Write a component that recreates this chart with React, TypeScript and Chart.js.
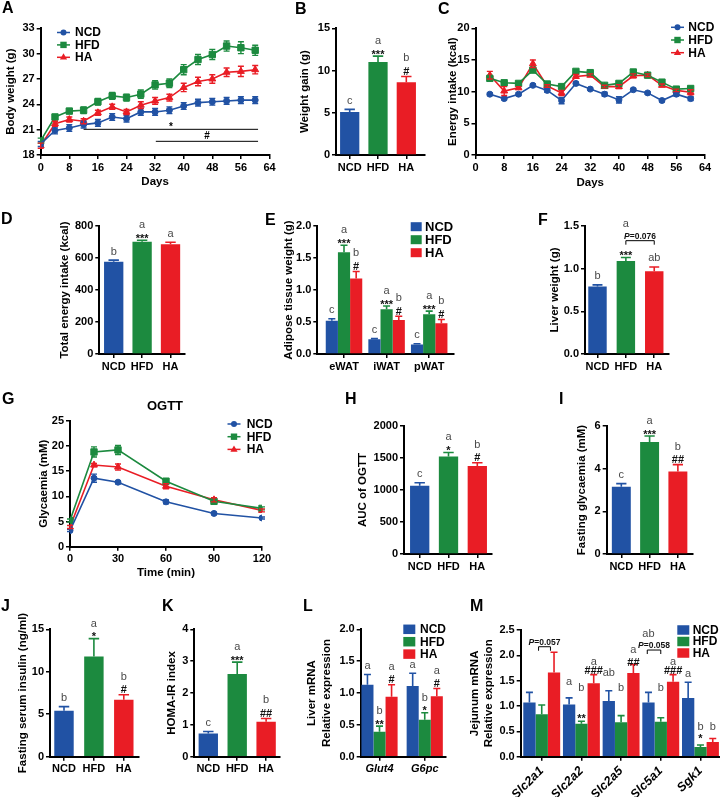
import React, { useEffect, useRef } from 'react';
import { Chart, registerables } from 'chart.js';

Chart.register(...registerables);

const FAM = '"Liberation Sans", Arial, Helvetica, sans-serif';
const COL_NCD = '#2152A4';
const COL_HFD = '#1C8A3F';
const COL_HA = '#E91D25';
const GROUP_COLORS = [COL_NCD, COL_HFD, COL_HA];

// ---------------- data ----------------
const GROUPS = ['NCD', 'HFD', 'HA'];

// A body weight
const A_DAYS = [0, 4, 8, 12, 16, 20, 24, 28, 32, 36, 40, 44, 48, 52, 56, 60];
const A_XTICKS = [0, 8, 16, 24, 32, 40, 48, 56, 64];
const A_NCD = [19.3, 20.9, 21.2, 21.6, 21.8, 22.5, 22.3, 23.1, 23.1, 23.3, 23.8, 24.2, 24.3, 24.4, 24.5, 24.5];
const A_NCD_SEM = [0.3, 0.4, 0.4, 0.4, 0.4, 0.4, 0.4, 0.4, 0.4, 0.4, 0.4, 0.4, 0.4, 0.4, 0.4, 0.4];
const A_HFD = [19.7, 22.5, 23.2, 23.3, 24.3, 25.0, 24.8, 25.2, 26.3, 26.5, 28.1, 29.3, 29.9, 30.9, 30.7, 30.4];
const A_HFD_SEM = [0.3, 0.3, 0.3, 0.4, 0.4, 0.4, 0.4, 0.5, 0.5, 0.5, 0.6, 0.6, 0.6, 0.6, 0.7, 0.6];
const A_HA = [19.1, 21.7, 22.2, 22.0, 23.0, 23.7, 23.1, 23.9, 24.4, 24.8, 26.0, 26.7, 27.0, 27.8, 27.9, 28.1];
const A_HA_SEM = [0.3, 0.3, 0.3, 0.3, 0.3, 0.3, 0.3, 0.4, 0.4, 0.4, 0.5, 0.5, 0.5, 0.5, 0.6, 0.5];

// B weight gain
const B_GAIN = [5.1, 11.0, 8.6];
const B_SEM = [0.3, 0.7, 0.7];
const B_LETTERS = ['c', 'a', 'b'];
const B_STARS = ['', '***', '#'];

// C energy intake
const C_DAYS = [4, 8, 12, 16, 20, 24, 28, 32, 36, 40, 44, 48, 52, 56, 60];
const C_XTICKS = [0, 8, 16, 24, 32, 40, 48, 56, 64];
const C_NCD = [9.6, 8.9, 9.6, 11.0, 10.2, 8.6, 11.3, 10.4, 9.6, 8.7, 10.3, 9.8, 8.6, 9.6, 8.9];
const C_NCD_SEM = [0.2, 0.2, 0.2, 0.2, 0.3, 0.5, 0.2, 0.2, 0.3, 0.5, 0.2, 0.2, 0.2, 0.3, 0.3];
const C_HFD = [12.1, 11.4, 11.3, 13.4, 11.2, 10.8, 13.2, 13.0, 11.0, 11.3, 13.1, 12.6, 11.5, 10.4, 10.5];
const C_HFD_SEM = [0.3, 0.2, 0.2, 0.3, 0.2, 0.2, 0.2, 0.2, 0.2, 0.2, 0.2, 0.2, 0.2, 0.2, 0.2];
const C_HA = [12.6, 10.1, 10.6, 14.4, 10.9, 9.8, 12.4, 12.6, 10.8, 10.8, 12.5, 12.6, 11.0, 10.2, 9.9];
const C_HA_SEM = [0.6, 0.7, 0.2, 0.6, 0.2, 0.4, 0.3, 0.2, 0.2, 0.3, 0.3, 0.2, 0.2, 0.2, 0.4];

// D total energy intake
const D_TOTAL = [577, 701, 686];
const D_SEM = [10, 10, 12];
const D_LETTERS = ['b', 'a', 'a'];
const D_STARS = ['', '***', ''];

// E adipose tissue
const E_TISSUES = ['eWAT', 'iWAT', 'pWAT'];
const E_NCD = [0.52, 0.23, 0.15];
const E_NCD_SEM = [0.03, 0.01, 0.01];
const E_HFD = [1.59, 0.70, 0.62];
const E_HFD_SEM = [0.11, 0.05, 0.05];
const E_HA = [1.18, 0.53, 0.48];
const E_HA_SEM = [0.11, 0.06, 0.06];
const E_NCD_LET = ['c', 'c', 'c'];
const E_HFD_LET = ['a', 'a', 'a'];
const E_HFD_STAR = ['***', '***', '***'];
const E_HA_LET = ['b', 'b', 'b'];
const E_HA_STAR = ['#', '#', '#'];

// F liver weight
const F_LIVER = [0.79, 1.09, 0.97];
const F_SEM = [0.02, 0.04, 0.05];
const F_LETTERS = ['b', 'a', 'ab'];
const F_STARS = ['', '***', ''];

// G OGTT
const G_TIME = [0, 15, 30, 60, 90, 120];
const G_XTICKS = [0, 30, 60, 90, 120];
const G_NCD = [3.2, 13.6, 12.8, 8.9, 6.6, 5.7];
const G_NCD_SEM = [0.2, 0.8, 0.3, 0.4, 0.2, 0.2];
const G_HFD = [5.2, 18.8, 19.2, 13.0, 9.0, 7.6];
const G_HFD_SEM = [0.3, 1.0, 0.9, 0.5, 0.4, 0.3];
const G_HA = [3.9, 16.2, 15.8, 12.0, 9.3, 7.2];
const G_HA_SEM = [0.3, 0.3, 0.6, 0.5, 0.4, 0.3];

// H AUC
const H_AUC = [1068, 1522, 1375];
const H_SEM = [45, 65, 50];
const H_LETTERS = ['c', 'a', 'b'];
const H_STARS = ['', '*', '#'];

// I fasting glycaemia
const I_GLY = [3.15, 5.25, 3.87];
const I_SEM = [0.15, 0.28, 0.32];
const I_LETTERS = ['c', 'a', 'b'];
const I_STARS = ['', '***', '##'];

// J fasting insulin
const J_INS = [5.4, 11.8, 6.7];
const J_SEM = [0.5, 2.1, 0.6];
const J_LETTERS = ['b', 'a', 'b'];
const J_STARS = ['', '*', '#'];

// K HOMA-IR
const K_HOMA = [0.73, 2.6, 1.1];
const K_SEM = [0.06, 0.37, 0.1];
const K_LETTERS = ['c', 'a', 'b'];
const K_STARS = ['', '***', '##'];

// L liver mRNA
const L_GENES = ['Glut4', 'G6pc'];
const L_NCD = [1.13, 1.11];
const L_NCD_SEM = [0.16, 0.20];
const L_HFD = [0.39, 0.58];
const L_HFD_SEM = [0.09, 0.11];
const L_HA = [0.94, 0.95];
const L_HA_SEM = [0.19, 0.12];
const L_NCD_LET = ['a', 'a'];
const L_HFD_LET = ['b', 'b'];
const L_HFD_STAR = ['**', '*'];
const L_HA_LET = ['a', 'a'];
const L_HA_STAR = ['#', '#'];

// M jejunum mRNA
const M_GENES = ['Slc2a1', 'Slc2a2', 'Slc2a5', 'Slc5a1', 'Sgk1'];
const M_NCD = [1.07, 1.03, 1.10, 1.07, 1.16];
const M_NCD_SEM = [0.20, 0.13, 0.20, 0.20, 0.31];
const M_HFD = [0.84, 0.65, 0.68, 0.69, 0.19];
const M_HFD_SEM = [0.18, 0.05, 0.13, 0.08, 0.04];
const M_HA = [1.66, 1.45, 1.65, 1.48, 0.29];
const M_HA_SEM = [0.40, 0.17, 0.17, 0.14, 0.07];
const M_NCD_LET = ['', 'a', 'ab', 'ab', 'a'];
const M_HFD_LET = ['', 'b', 'b', 'b', 'b'];
const M_HFD_STAR = ['', '**', '', '', '*'];
const M_HA_LET = ['', 'a', 'a', 'a', 'b'];
const M_HA_STAR = ['', '###', '##', '###', ''];

// ---------------- helpers ----------------
const STAR_FONT = `bold 11px ${FAM}`;
const LETTER_FONT = `11px ${FAM}`;
const LETTER_COLOR = '#4a4a4a';

type Box = { x: number; y: number; w: number; h: number };
type Area = { l: number; t: number; r: number; b: number };
type AxisText = { text: string | string[]; at: number; lh?: number };
type Spec = {
  key: string;
  box: Box;
  area: Area;
  type: 'line' | 'bar';
  datasets: any[];
  xMin: number; xMax: number; xTicks: number[]; xLabels?: string[]; xRot?: number; xItalic?: boolean;
  xFontSize?: number; xPad?: number;
  xTitle?: AxisText;
  yMin: number; yMax: number; yStep: number; yDec: number; yTitle: AxisText;
  legend?: { kind: 'line' | 'box'; x: number; tx: number; y: number; dy: number; w?: number; h?: number; size?: number };
  title?: { text: string; x: number; y: number };
  sigLines?: { x1: number; x2: number; y: number; label: string }[];
  brackets?: { x1: number; x2: number; y: number; label: string }[];
  marks?: Record<string, number>;
};

function lineDs(label: string, xs: number[], ys: number[], sem: number[], color: string, style: string) {
  return {
    label,
    data: xs.map((x, i) => ({ x, y: ys[i] })),
    errors: sem,
    borderColor: color,
    backgroundColor: color,
    borderWidth: 1.6,
    pointStyle: style,
    pointRadius: style === 'circle' ? 3 : style === 'rect' ? 4.5 : 4,
    pointBorderWidth: 1,
    tension: 0,
    fill: false,
  };
}

function singleBar(values: number[], sem: number[], letters: string[], stars: string[], pct: number) {
  return [{
    label: 'all',
    data: values.map((y, i) => ({ x: i, y })),
    backgroundColor: GROUP_COLORS,
    borderWidth: 0,
    errors: sem,
    letters,
    stars,
    categoryPercentage: pct,
    barPercentage: 1,
  }];
}

function groupBar(label: string, values: number[], sem: number[], color: string, letters: string[], stars: string[], pct: number) {
  return {
    label,
    data: values.map((y, i) => ({ x: i, y })),
    backgroundColor: color,
    borderWidth: 0,
    errors: sem,
    letters,
    stars,
    categoryPercentage: pct,
    barPercentage: 1,
  };
}

function idx(n: number) {
  return Array.from({ length: n }, (_, i) => i);
}

function drawBottom(ctx: CanvasRenderingContext2D, text: string, x: number, bottom: number, font: string, color: string) {
  ctx.font = font;
  ctx.fillStyle = color;
  ctx.textAlign = 'center';
  ctx.textBaseline = 'alphabetic';
  const m = ctx.measureText(text);
  const base = bottom - m.actualBoundingBoxDescent;
  ctx.fillText(text, x, base);
  return base - m.actualBoundingBoxAscent;
}

function drawCentered(ctx: CanvasRenderingContext2D, text: string, x: number, yc: number, font: string, color: string) {
  ctx.font = font;
  ctx.fillStyle = color;
  ctx.textAlign = 'center';
  ctx.textBaseline = 'alphabetic';
  const m = ctx.measureText(text);
  const h = m.actualBoundingBoxAscent + m.actualBoundingBoxDescent;
  const base = yc + h / 2 - m.actualBoundingBoxDescent;
  ctx.fillText(text, x, base);
  return base - m.actualBoundingBoxAscent;
}

function drawMarker(ctx: CanvasRenderingContext2D, style: string, x: number, y: number, color: string) {
  ctx.fillStyle = color;
  ctx.beginPath();
  if (style === 'circle') {
    ctx.arc(x, y, 3, 0, Math.PI * 2);
  } else if (style === 'rect') {
    ctx.rect(x - 3.2, y - 3.2, 6.4, 6.4);
  } else {
    ctx.moveTo(x, y - 4);
    ctx.lineTo(x - 3.6, y + 2.3);
    ctx.lineTo(x + 3.6, y + 2.3);
    ctx.closePath();
  }
  ctx.fill();
}

function drawP(ctx: CanvasRenderingContext2D, cx: number, base: number, val: string) {
  const f1 = `italic bold 8.5px ${FAM}`;
  const f2 = `bold 8.5px ${FAM}`;
  ctx.font = f1;
  const w1 = ctx.measureText('P').width;
  ctx.font = f2;
  const t2 = '=' + val;
  const w2 = ctx.measureText(t2).width;
  const x0 = cx - (w1 + w2) / 2;
  ctx.fillStyle = '#111';
  ctx.textAlign = 'left';
  ctx.textBaseline = 'alphabetic';
  ctx.font = f1;
  ctx.fillText('P', x0, base);
  ctx.font = f2;
  ctx.fillText(t2, x0 + w1, base);
}

function annot(s: Spec) {
  return {
    id: 'annot',
    afterDatasetsDraw(chart: any) {
      const ctx: CanvasRenderingContext2D = chart.ctx;
      const xs = chart.scales.x;
      const ys = chart.scales.y;
      const ox = s.box.x;
      const oy = s.box.y;
      const marks = s.marks || {};
      ctx.save();
      chart.data.datasets.forEach((ds: any, di: number) => {
        const meta = chart.getDatasetMeta(di);
        meta.data.forEach((el: any, i: number) => {
          const v = ds.data[i].y;
          const e = ds.errors ? ds.errors[i] : 0;
          const top = ys.getPixelForValue(v + e);
          if (s.type === 'bar') {
            const col = el.options.backgroundColor;
            const half = Math.max(3.5, el.width * 0.27);
            if (e > 0) {
              ctx.strokeStyle = col;
              ctx.lineWidth = 1.6;
              ctx.beginPath();
              ctx.moveTo(el.x, ys.getPixelForValue(v));
              ctx.lineTo(el.x, top);
              ctx.moveTo(el.x - half, top);
              ctx.lineTo(el.x + half, top);
              ctx.stroke();
            }
            const star = ds.stars ? ds.stars[i] : '';
            const letter = ds.letters ? ds.letters[i] : '';
            let cursor = top - 5.5;
            if (star) {
              const k = `${di}:${i}:S`;
              const t = marks[k] !== undefined
                ? drawCentered(ctx, star, el.x, ys.getPixelForValue(marks[k]), STAR_FONT, '#111')
                : drawBottom(ctx, star, el.x, top - 1.5, STAR_FONT, '#111');
              cursor = t - 5.5;
            }
            if (letter) {
              const k = `${di}:${i}:L`;
              if (marks[k] !== undefined) drawCentered(ctx, letter, el.x, ys.getPixelForValue(marks[k]), LETTER_FONT, LETTER_COLOR);
              else drawBottom(ctx, letter, el.x, cursor, LETTER_FONT, LETTER_COLOR);
            }
          } else if (e > 0) {
            const bot = ys.getPixelForValue(v - e);
            ctx.strokeStyle = ds.borderColor;
            ctx.lineWidth = 1.4;
            ctx.beginPath();
            ctx.moveTo(el.x, bot);
            ctx.lineTo(el.x, top);
            ctx.moveTo(el.x - 3, top);
            ctx.lineTo(el.x + 3, top);
            ctx.moveTo(el.x - 3, bot);
            ctx.lineTo(el.x + 3, bot);
            ctx.stroke();
          }
        });
      });

      if (s.sigLines) {
        s.sigLines.forEach((l) => {
          const x1 = xs.getPixelForValue(l.x1);
          const x2 = xs.getPixelForValue(l.x2);
          const y = ys.getPixelForValue(l.y);
          ctx.strokeStyle = '#000';
          ctx.lineWidth = 1;
          ctx.beginPath();
          ctx.moveTo(x1, y);
          ctx.lineTo(x2, y);
          ctx.stroke();
          drawBottom(ctx, l.label, (x1 + x2) / 2, y - 2, `bold 10px ${FAM}`, '#000');
        });
      }

      if (s.brackets) {
        s.brackets.forEach((b) => {
          const x1 = xs.getPixelForValue(b.x1);
          const x2 = xs.getPixelForValue(b.x2);
          const y = ys.getPixelForValue(b.y);
          ctx.strokeStyle = '#000';
          ctx.lineWidth = 1;
          ctx.beginPath();
          ctx.moveTo(x1, y + 4);
          ctx.lineTo(x1, y);
          ctx.lineTo(x2, y);
          ctx.lineTo(x2, y + 4);
          ctx.stroke();
          drawP(ctx, (x1 + x2) / 2, y - 2, b.label);
        });
      }

      if (s.legend) {
        const L = s.legend;
        chart.data.datasets.forEach((ds: any, di: number) => {
          const y = L.y + di * L.dy - oy;
          if (L.kind === 'line') {
            const col = ds.borderColor;
            ctx.strokeStyle = col;
            ctx.lineWidth = 1.5;
            ctx.beginPath();
            ctx.moveTo(L.x - 6.5 - ox, y);
            ctx.lineTo(L.x + 6.5 - ox, y);
            ctx.stroke();
            drawMarker(ctx, ds.pointStyle, L.x - ox, y, col);
          } else {
            ctx.fillStyle = ds.backgroundColor;
            ctx.fillRect(L.x - ox, y - (L.h || 9) / 2, L.w || 11, L.h || 9);
          }
          ctx.font = `bold ${L.size || 12}px ${FAM}`;
          ctx.fillStyle = '#000';
          ctx.textAlign = 'left';
          ctx.textBaseline = 'middle';
          ctx.fillText(ds.label, L.tx - ox, y + 0.5);
        });
      }

      if (s.title) {
        ctx.font = `bold 13px ${FAM}`;
        ctx.fillStyle = '#000';
        ctx.textAlign = 'center';
        ctx.textBaseline = 'middle';
        ctx.fillText(s.title.text, s.title.x - ox, s.title.y - oy);
      }
      ctx.restore();
    },
  };
}

function makeChart(canvas: HTMLCanvasElement, s: Spec) {
  const yW = s.area.l - s.box.x;
  const xH = s.box.y + s.box.h - s.area.b;
  const TS = 11.5;
  const tickFont = { family: FAM, size: 11, weight: 'bold' };
  const yLh = s.yTitle.lh ?? 14;
  const xLh = 14;
  const config: any = {
    type: s.type,
    data: { datasets: s.datasets },
    options: {
      animation: false,
      responsive: false,
      maintainAspectRatio: false,
      devicePixelRatio: 1,
      events: [],
      layout: {
        padding: { left: 0, top: s.area.t - s.box.y, right: s.box.x + s.box.w - s.area.r, bottom: 0 },
      },
      plugins: { legend: { display: false }, tooltip: { enabled: false }, title: { display: false } },
      scales: {
        x: {
          type: 'linear',
          min: s.xMin,
          max: s.xMax,
          offset: false,
          afterBuildTicks: (sc: any) => {
            sc.ticks = s.xTicks.map((v) => ({ value: v }));
          },
          afterFit: (sc: any) => {
            sc.height = xH;
          },
          ticks: {
            autoSkip: false,
            maxRotation: s.xRot ?? 0,
            minRotation: s.xRot ?? 0,
            padding: s.xPad ?? 2,
            color: '#000',
            font: { ...tickFont, size: s.xFontSize ?? 11, style: s.xItalic ? 'italic' : 'normal' },
            callback: (v: number, i: number) => (s.xLabels ? s.xLabels[i] : String(v)),
          },
          grid: {
            display: true,
            offset: false,
            drawOnChartArea: false,
            drawTicks: true,
            tickLength: 4,
            color: '#000',
            lineWidth: 1.5,
          },
          border: { display: true, color: '#000', width: 2 },
          title: s.xTitle
            ? {
                display: true,
                text: s.xTitle.text,
                color: '#000',
                font: { family: FAM, size: TS, weight: 'bold', lineHeight: xLh / TS },
                padding: { top: 0, bottom: s.box.y + s.box.h - s.xTitle.at - xLh / 2 },
              }
            : { display: false },
        },
        y: {
          type: 'linear',
          min: s.yMin,
          max: s.yMax,
          afterFit: (sc: any) => {
            sc.width = yW;
          },
          ticks: {
            stepSize: s.yStep,
            padding: 2,
            color: '#000',
            font: tickFont,
            callback: (v: number) => Number(v).toFixed(s.yDec),
          },
          grid: {
            display: true,
            drawOnChartArea: false,
            drawTicks: true,
            tickLength: 4,
            color: '#000',
            lineWidth: 1.5,
          },
          border: { display: true, color: '#000', width: 2 },
          title: {
            display: true,
            text: s.yTitle.text,
            color: '#000',
            font: { family: FAM, size: TS, weight: 'bold', lineHeight: yLh / TS },
            padding: { top: s.yTitle.at - s.box.x - yLh / 2, bottom: 0 },
          },
        },
      },
    },
    plugins: [annot(s)],
  };
  return new Chart(canvas, config);
}

// ---------------- panel specs ----------------
const SPECS: Spec[] = [
  {
    key: 'A', type: 'line',
    box: { x: 0, y: 0, w: 292, h: 196 },
    area: { l: 40.7, t: 28.3, r: 269.5, b: 155 },
    datasets: [
      lineDs(GROUPS[0], A_DAYS, A_NCD, A_NCD_SEM, COL_NCD, 'circle'),
      lineDs(GROUPS[1], A_DAYS, A_HFD, A_HFD_SEM, COL_HFD, 'rect'),
      lineDs(GROUPS[2], A_DAYS, A_HA, A_HA_SEM, COL_HA, 'triangle'),
    ],
    xMin: 0, xMax: 64, xTicks: A_XTICKS, xTitle: { text: 'Days', at: 182 },
    yMin: 18, yMax: 33, yStep: 3, yDec: 0, yTitle: { text: 'Body weight (g)', at: 11 },
    legend: { kind: 'line', x: 63.5, tx: 75, y: 32.5, dy: 12.4 },
    sigLines: [
      { x1: 12, x2: 60.8, y: 21.04, label: '*' },
      { x1: 32.2, x2: 60.8, y: 19.62, label: '#' },
    ],
  },
  {
    key: 'B', type: 'bar',
    box: { x: 292, y: 0, w: 144, h: 196 },
    area: { l: 336, t: 28.3, r: 425, b: 155 },
    datasets: singleBar(B_GAIN, B_SEM, B_LETTERS, B_STARS, 0.68),
    xMin: -0.484, xMax: 2.66, xTicks: idx(3), xLabels: GROUPS,
    yMin: 0, yMax: 15, yStep: 5, yDec: 0, yTitle: { text: 'Weight gain (g)', at: 305 },
  },
  {
    key: 'C', type: 'line',
    box: { x: 436, y: 0, w: 284, h: 196 },
    area: { l: 475.5, t: 28.3, r: 705, b: 155 },
    datasets: [
      lineDs(GROUPS[0], C_DAYS, C_NCD, C_NCD_SEM, COL_NCD, 'circle'),
      lineDs(GROUPS[1], C_DAYS, C_HFD, C_HFD_SEM, COL_HFD, 'rect'),
      lineDs(GROUPS[2], C_DAYS, C_HA, C_HA_SEM, COL_HA, 'triangle'),
    ],
    xMin: 0, xMax: 64, xTicks: C_XTICKS, xTitle: { text: 'Days', at: 183 },
    yMin: 0, yMax: 20, yStep: 5, yDec: 0, yTitle: { text: 'Energy intake (kcal)', at: 453 },
    legend: { kind: 'line', x: 677.5, tx: 688.3, y: 27.3, dy: 12.7 },
  },
  {
    key: 'D', type: 'bar',
    box: { x: 0, y: 205, w: 262, h: 185 },
    area: { l: 99.3, t: 226, r: 185, b: 354 },
    datasets: singleBar(D_TOTAL, D_SEM, D_LETTERS, D_STARS, 0.68),
    xMin: -0.507, xMax: 2.51, xTicks: idx(3), xLabels: GROUPS,
    yMin: 0, yMax: 800, yStep: 200, yDec: 0, yTitle: { text: 'Total energy intake (kcal)', at: 65 },
  },
  {
    key: 'E', type: 'bar',
    box: { x: 262, y: 205, w: 208, h: 185 },
    area: { l: 317.3, t: 226, r: 453.3, b: 354 },
    datasets: [
      groupBar(GROUPS[0], E_NCD, E_NCD_SEM, COL_NCD, E_NCD_LET, [], 0.857),
      groupBar(GROUPS[1], E_HFD, E_HFD_SEM, COL_HFD, E_HFD_LET, E_HFD_STAR, 0.857),
      groupBar(GROUPS[2], E_HA, E_HA_SEM, COL_HA, E_HA_LET, E_HA_STAR, 0.857),
    ],
    xMin: -0.627, xMax: 2.566, xTicks: idx(3), xLabels: E_TISSUES,
    yMin: 0, yMax: 2, yStep: 0.5, yDec: 1, yTitle: { text: 'Adipose tissue weight (g)', at: 289 },
    legend: { kind: 'box', x: 410.7, tx: 425, y: 226.7, dy: 13, w: 11, h: 9, size: 13 },
  },
  {
    key: 'F', type: 'bar',
    box: { x: 470, y: 205, w: 250, h: 185 },
    area: { l: 585, t: 226, r: 669, b: 354 },
    datasets: singleBar(F_LIVER, F_SEM, F_LETTERS, F_STARS, 0.65),
    xMin: -0.44, xMax: 2.52, xTicks: idx(3), xLabels: GROUPS,
    yMin: 0, yMax: 1.5, yStep: 0.5, yDec: 1, yTitle: { text: 'Liver weight (g)', at: 555 },
    brackets: [{ x1: 1, x2: 2, y: 1.328, label: '0.076' }],
    marks: { '0:1:L': 1.523 },
  },
  {
    key: 'G', type: 'line',
    box: { x: 0, y: 390, w: 300, h: 200 },
    area: { l: 70, t: 420.7, r: 262, b: 546.7 },
    datasets: [
      lineDs(GROUPS[0], G_TIME, G_NCD, G_NCD_SEM, COL_NCD, 'circle'),
      lineDs(GROUPS[1], G_TIME, G_HFD, G_HFD_SEM, COL_HFD, 'rect'),
      lineDs(GROUPS[2], G_TIME, G_HA, G_HA_SEM, COL_HA, 'triangle'),
    ],
    xMin: 0, xMax: 120, xTicks: G_XTICKS, xTitle: { text: 'Time (min)', at: 573 },
    yMin: 0, yMax: 25, yStep: 5, yDec: 0, yTitle: { text: 'Glycaemia (mM)', at: 44 },
    legend: { kind: 'line', x: 234, tx: 246.7, y: 424, dy: 12.7 },
    title: { text: 'OGTT', x: 165, y: 406 },
  },
  {
    key: 'H', type: 'bar',
    box: { x: 300, y: 390, w: 220, h: 200 },
    area: { l: 404, t: 426, r: 492, b: 554 },
    datasets: singleBar(H_AUC, H_SEM, H_LETTERS, H_STARS, 0.67),
    xMin: -0.545, xMax: 2.51, xTicks: idx(3), xLabels: GROUPS,
    yMin: 0, yMax: 2000, yStep: 500, yDec: 0, yTitle: { text: 'AUC of OGTT', at: 362.5 },
  },
  {
    key: 'I', type: 'bar',
    box: { x: 520, y: 390, w: 200, h: 200 },
    area: { l: 606.7, t: 426, r: 692.3, b: 554 },
    datasets: singleBar(I_GLY, I_SEM, I_LETTERS, I_STARS, 0.67),
    xMin: -0.517, xMax: 2.51, xTicks: idx(3), xLabels: GROUPS,
    yMin: 0, yMax: 6, yStep: 2, yDec: 0, yTitle: { text: 'Fasting glycaemia (mM)', at: 581.5 },
  },
  {
    key: 'J', type: 'bar',
    box: { x: 0, y: 590, w: 150, h: 207 },
    area: { l: 50, t: 629.3, r: 138.3, b: 756.7 },
    datasets: singleBar(J_INS, J_SEM, J_LETTERS, J_STARS, 0.65),
    xMin: -0.468, xMax: 2.485, xTicks: idx(3), xLabels: GROUPS,
    yMin: 0, yMax: 15, yStep: 5, yDec: 0, yTitle: { text: 'Fasting serum insulin (ng/ml)', at: 23 },
  },
  {
    key: 'K', type: 'bar',
    box: { x: 150, y: 590, w: 140, h: 207 },
    area: { l: 194.3, t: 629.3, r: 280, b: 756.7 },
    datasets: singleBar(K_HOMA, K_SEM, K_LETTERS, K_STARS, 0.67),
    xMin: -0.484, xMax: 2.48, xTicks: idx(3), xLabels: GROUPS,
    yMin: 0, yMax: 4, yStep: 1, yDec: 0, yTitle: { text: 'HOMA-IR index', at: 172 },
  },
  {
    key: 'L', type: 'bar',
    box: { x: 290, y: 590, w: 180, h: 207 },
    area: { l: 360.7, t: 629.3, r: 446, b: 756.7 },
    datasets: [
      groupBar(GROUPS[0], L_NCD, L_NCD_SEM, COL_NCD, L_NCD_LET, [], 0.8),
      groupBar(GROUPS[1], L_HFD, L_HFD_SEM, COL_HFD, L_HFD_LET, L_HFD_STAR, 0.8),
      groupBar(GROUPS[2], L_HA, L_HA_SEM, COL_HA, L_HA_LET, L_HA_STAR, 0.8),
    ],
    xMin: -0.416, xMax: 1.47, xTicks: idx(2), xLabels: L_GENES, xItalic: true,
    yMin: 0, yMax: 2, yStep: 0.5, yDec: 1,
    yTitle: { text: ['Liver mRNA', 'Relative expression'], at: 312, lh: 14.5 },
    legend: { kind: 'box', x: 403.3, tx: 420, y: 629.3, dy: 12.4, w: 12, h: 9.5 },
  },
  {
    key: 'M', type: 'bar',
    box: { x: 455, y: 590, w: 265, h: 207 },
    area: { l: 520.7, t: 630, r: 719.5, b: 756.7 },
    datasets: [
      groupBar(GROUPS[0], M_NCD, M_NCD_SEM, COL_NCD, M_NCD_LET, [], 0.93),
      groupBar(GROUPS[1], M_HFD, M_HFD_SEM, COL_HFD, M_HFD_LET, M_HFD_STAR, 0.93),
      groupBar(GROUPS[2], M_HA, M_HA_SEM, COL_HA, M_HA_LET, M_HA_STAR, 0.93),
    ],
    xMin: -0.53, xMax: 4.48, xTicks: idx(5), xLabels: M_GENES, xItalic: true, xRot: 45,
    xFontSize: 12.5, xPad: 3,
    yMin: 0, yMax: 2.5, yStep: 0.5, yDec: 1,
    yTitle: { text: ['Jejunum mRNA', 'Relative expression'], at: 475, lh: 14 },
    legend: { kind: 'box', x: 677.3, tx: 692.7, y: 630, dy: 11.5, w: 12, h: 9.5 },
    brackets: [
      { x1: -0.08, x2: 0.22, y: 2.17, label: '0.057' },
      { x1: 2.66, x2: 3.0, y: 2.105, label: '0.058' },
    ],
    marks: {
      '0:1:L': 1.48, '1:1:L': 1.37, '1:1:S': 0.80, '2:1:L': 1.87, '2:1:S': 1.71,
      '0:2:L': 1.68, '1:2:L': 1.37, '2:2:L': 2.11, '2:2:S': 1.87,
      '0:3:L': 2.45, '1:3:L': 1.37, '2:3:L': 1.87, '2:3:S': 1.71,
      '1:4:L': 0.61, '1:4:S': 0.39, '2:4:L': 0.61,
    },
  },
];

const PANEL_LETTERS: { t: string; x: number; y: number }[] = [
  { t: 'A', x: 2, y: 2 },
  { t: 'B', x: 295, y: 3 },
  { t: 'C', x: 438, y: 3 },
  { t: 'D', x: 1, y: 213 },
  { t: 'E', x: 265, y: 214 },
  { t: 'F', x: 538, y: 214 },
  { t: 'G', x: 2, y: 393 },
  { t: 'H', x: 345, y: 393 },
  { t: 'I', x: 559, y: 393 },
  { t: 'J', x: 1, y: 600 },
  { t: 'K', x: 162, y: 600 },
  { t: 'L', x: 303, y: 600 },
  { t: 'M', x: 470, y: 600 },
];

function Panel({ spec }: { spec: Spec }) {
  const ref = useRef<HTMLCanvasElement>(null);
  useEffect(() => {
    if (!ref.current) return;
    const chart = makeChart(ref.current, spec);
    return () => chart.destroy();
  }, [spec]);
  return (
    <canvas
      ref={ref}
      width={spec.box.w}
      height={spec.box.h}
      style={{ position: 'absolute', left: spec.box.x, top: spec.box.y, width: spec.box.w, height: spec.box.h }}
    />
  );
}

export default function App() {
  return (
    <div style={{ position: 'absolute', left: 0, top: 0, width: 720, height: 797, background: '#fff', overflow: 'hidden' }}>
      {SPECS.map((s) => (
        <Panel key={s.key} spec={s} />
      ))}
      {PANEL_LETTERS.map((p) => (
        <div
          key={p.t}
          style={{
            position: 'absolute',
            left: p.x,
            top: p.y - 2,
            font: `bold 16px ${FAM}`,
            lineHeight: '16px',
            color: '#000',
            margin: 0,
          }}
        >
          {p.t}
        </div>
      ))}
    </div>
  );
}
